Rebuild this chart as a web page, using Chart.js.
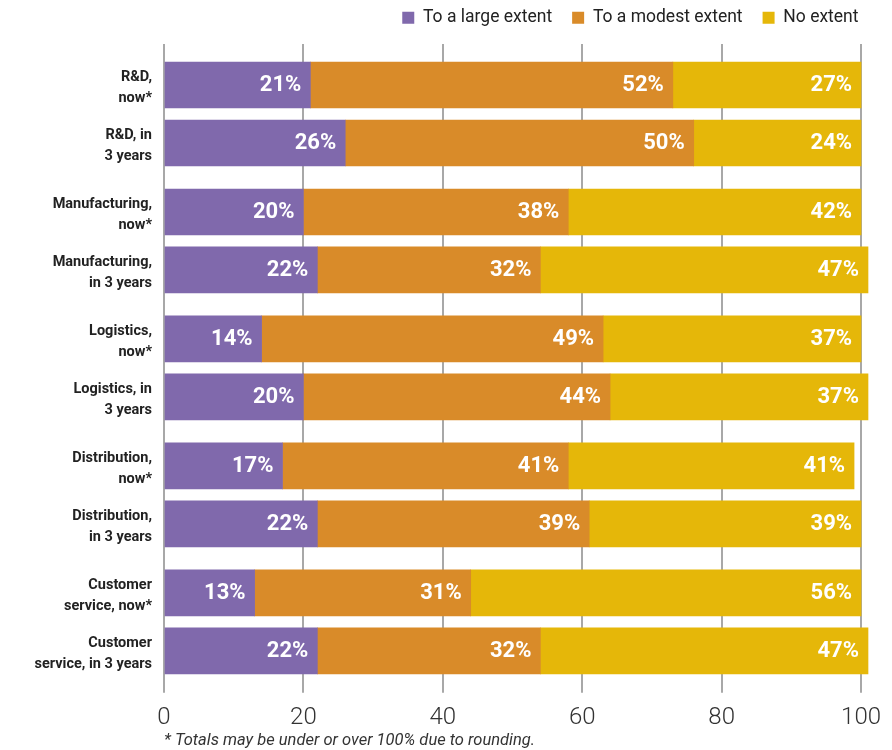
<!DOCTYPE html>
<html>
<head>
<meta charset="utf-8">
<script src="https://cdn.jsdelivr.net/npm/chart.js@4.4.1/dist/chart.umd.min.js"></script>
<style>
  body { margin: 0; background: #fff; }
  #wrap { width: 892px; height: 750px; }
</style>
</head>
<body>
<div id="wrap"><canvas id="barChart"></canvas></div>
<script>
// categories (two-line labels)
const categories = [
  ["R&D,", "now*"],
  ["R&D, in", "3 years"],
  ["Manufacturing,", "now*"],
  ["Manufacturing,", "in 3 years"],
  ["Logistics,", "now*"],
  ["Logistics, in", "3 years"],
  ["Distribution,", "now*"],
  ["Distribution,", "in 3 years"],
  ["Customer", "service, now*"],
  ["Customer", "service, in 3 years"]
];
const seriesNames = ["To a large extent", "To a modest extent", "No extent"];
const largeExtent  = [21, 26, 20, 22, 14, 20, 17, 22, 13, 22];
const modestExtent = [52, 50, 38, 32, 49, 44, 41, 39, 31, 32];
const noExtent     = [27, 24, 42, 47, 37, 37, 41, 39, 56, 47];
const xTicks = [0, 20, 40, 60, 80, 100];
const footnote = "* Totals may be under or over 100% due to rounding.";

const colors = ["#8069ac", "#d98b29", "#e5b709"];
const fontFam = "Roboto, 'Open Sans', sans-serif";

// bars come in pairs, with a bit more room between pairs
var rowPos = categories.map(function (c, i) { return i + Math.floor(i / 2) * 0.19; });

function toPoints(values) {
  return values.map(function (v, i) { return { x: v, y: rowPos[i] }; });
}

var ctx = document.getElementById("barChart").getContext("2d");

const legendFit = {
  id: "legendFit",
  beforeInit: function (chart) {
    var fit = chart.legend.fit;
    chart.legend.fit = function () {
      fit.bind(chart.legend)();
      this.height = 55;
    };
  },
  afterLayout: function (chart) {
    // push legend a little further right
    chart.legend.right += 16.5;
  }
};

const barLabels = {
  id: "barLabels",
  afterDatasetsDraw: function (chart) {
    var c = chart.ctx;
    c.save();
    c.font = "bold 22px " + fontFam;
    c.fillStyle = "#ffffff";
    c.textAlign = "right";
    c.textBaseline = "middle";
    chart.data.datasets.forEach(function (ds, di) {
      chart.getDatasetMeta(di).data.forEach(function (bar, i) {
        c.fillText(ds.data[i].x + "%", bar.x - 9, bar.y + 1);
      });
    });
    c.restore();
  }
};

var barChart = new Chart(ctx, {
  type: "bar",
  data: {
    datasets: [
      { label: seriesNames[0], data: toPoints(largeExtent), backgroundColor: colors[0] },
      { label: seriesNames[1], data: toPoints(modestExtent), backgroundColor: colors[1] },
      { label: seriesNames[2], data: toPoints(noExtent), backgroundColor: colors[2] }
    ]
  },
  options: {
    indexAxis: "y",
    responsive: true,
    maintainAspectRatio: false,
    animation: false,
    layout: { padding: { top: -11, right: 30, left: 0, bottom: 0 } },
    datasets: { bar: { barThickness: 46, clip: false, borderWidth: 0 } },
    scales: {
      x: {
        stacked: true,
        min: 0,
        max: 100,
        border: { display: false },
        grid: { color: "#a8a8a8", lineWidth: 2, tickLength: 13, tickColor: "#a8a8a8" },
        afterBuildTicks: function (axis) {
          axis.ticks = xTicks.map(function (v) { return { value: v }; });
        },
        ticks: {
          padding: 11,
          color: "#333333",
          font: { family: fontFam, size: 24, weight: "300" }
        },
        afterFit: function (axis) { axis.height = 52; }
      },
      y: {
        type: "linear",
        stacked: true,
        reverse: true,
        offset: false,
        min: -0.707,
        max: rowPos[rowPos.length - 1] + 0.5,
        border: { display: false },
        grid: { display: false, drawTicks: false, offset: false },
        afterBuildTicks: function (axis) {
          axis.ticks = rowPos.map(function (v) { return { value: v }; });
        },
        ticks: {
          padding: 12,
          labelOffset: 3,
          color: "#222222",
          font: { family: fontFam, size: 14.5, weight: "bold", lineHeight: 1.5 },
          callback: function (value, index) { return categories[index]; }
        },
        afterFit: function (axis) { axis.width = 164; }
      }
    },
    plugins: {
      legend: {
        position: "top",
        align: "end",
        labels: {
          boxWidth: 12,
          boxHeight: 12,
          padding: 20,
          color: "#222222",
          font: { family: fontFam, size: 17.5 }
        }
      },
      title: {
        display: true,
        text: footnote,
        position: "bottom",
        align: "start",
        fullSize: false,
        color: "#333333",
        padding: { top: 0, bottom: 0 },
        font: { family: fontFam, size: 16.5, style: "italic", weight: "normal", lineHeight: 1.1 }
      },
      tooltip: { enabled: false }
    }
  },
  plugins: [legendFit, barLabels]
});
</script>
</body>
</html>
